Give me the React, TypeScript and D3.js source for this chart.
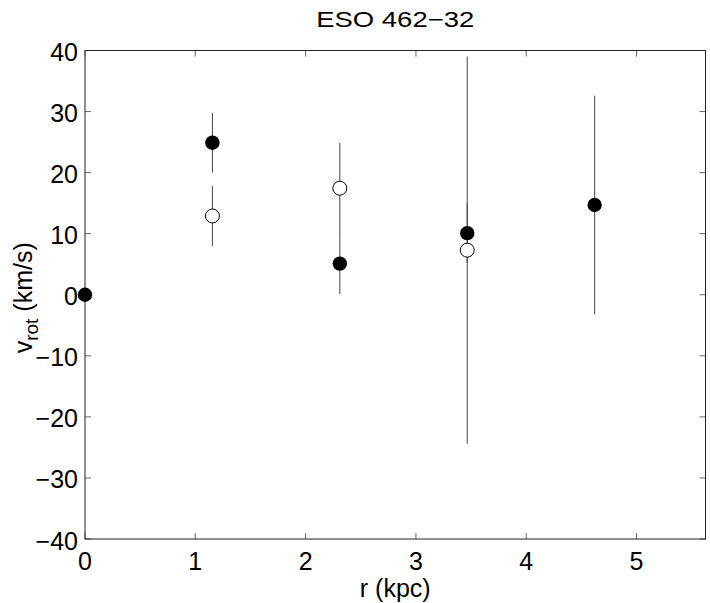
import React from "react";
import * as d3 from "d3";

// radius positions (kpc)
const radii = [0, 1.155, 2.31, 3.465, 4.62];
// filled symbols: one side of the galaxy
const filledV = [0, 24.9, 5.1, 10.1, 14.7];
const filledErr = [0, 4.9, 5.0, 4.9, 17.9];
// open symbols: other side
const openR = [1.155, 2.31, 3.465];
const openV = [12.9, 17.45, 7.3];
const openErr = [4.9, 7.4, 31.7];

const xTicks = [0, 1, 2, 3, 4, 5];
const yTicks = [-40, -30, -20, -10, 0, 10, 20, 30, 40];

const W = 710;
const H = 603;
const margin = { top: 50.5, right: 4.5, bottom: 64, left: 85 };
const font = "'Liberation Sans', Arial, Helvetica, sans-serif";

const fmt = (v: number) => (v < 0 ? "\u2212" + Math.abs(v) : String(v));

export default function App() {
  const x = d3.scaleLinear().domain([0, 5.625]).range([margin.left, W - margin.right]);
  const y = d3.scaleLinear().domain([-40, 40]).range([H - margin.bottom, margin.top]);
  const [x0, x1] = x.range();
  const [y0, y1] = y.range();
  const tick = 6;

  return (
    <svg
      width={W}
      height={H}
      style={{ position: "absolute", left: 0, top: 0, background: "#fff" }}
      fontFamily={font}
    >
      <text x={(x0 + x1) / 2} y={27} textAnchor="middle" fontSize={22} textLength={158} lengthAdjust="spacingAndGlyphs">
        ESO 462{"\u2212"}32
      </text>

      {/* ticks on all four sides */}
      <g stroke="#666" strokeWidth={1}>
        {xTicks.map((t) => (
          <g key={"xt" + t}>
            <line x1={x(t)} x2={x(t)} y1={y0} y2={y0 - tick} />
            <line x1={x(t)} x2={x(t)} y1={y1} y2={y1 + tick} />
          </g>
        ))}
        {yTicks.map((t) => (
          <g key={"yt" + t}>
            <line x1={x0} x2={x0 + tick} y1={y(t)} y2={y(t)} />
            <line x1={x1} x2={x1 - tick} y1={y(t)} y2={y(t)} />
          </g>
        ))}
      </g>
      <rect x={x0} y={y1} width={x1 - x0} height={y0 - y1} fill="none" stroke="#222" strokeWidth={1} />

      {xTicks.map((t) => (
        <text key={"xl" + t} x={x(t)} y={y0 + 31} textAnchor="middle" fontSize={25}>
          {fmt(t)}
        </text>
      ))}
      {yTicks.map((t) => (
        <text key={"yl" + t} x={x0 - 7} y={y(t) + 10.5} textAnchor="end" fontSize={25}>
          {fmt(t)}
        </text>
      ))}

      <text x={(x0 + x1) / 2} y={597} textAnchor="middle" fontSize={25}>
        r (kpc)
      </text>
      <text transform={`translate(32, ${y(0) + 3}) rotate(-90)`} textAnchor="middle" fontSize={25}>
        v<tspan baselineShift="-30%" fontSize={19}>rot</tspan> (km/s)
      </text>

      {/* error bars */}
      <g stroke="#444" strokeWidth={1}>
        {radii.map((r, i) =>
          filledErr[i] > 0 ? (
            <line key={"fe" + i} x1={x(r)} x2={x(r)} y1={y(filledV[i] - filledErr[i])} y2={y(filledV[i] + filledErr[i])} />
          ) : null
        )}
        {openR.map((r, i) => (
          <line key={"oe" + i} x1={x(r)} x2={x(r)} y1={y(openV[i] - openErr[i])} y2={y(openV[i] + openErr[i])} />
        ))}
      </g>

      {openR.map((r, i) => (
        <circle key={"o" + i} cx={x(r)} cy={y(openV[i])} r={7} fill="#fff" stroke="#000" strokeWidth={1} />
      ))}
      {radii.map((r, i) => (
        <circle key={"f" + i} cx={x(r)} cy={y(filledV[i])} r={7.2} fill="#000" />
      ))}
    </svg>
  );
}
